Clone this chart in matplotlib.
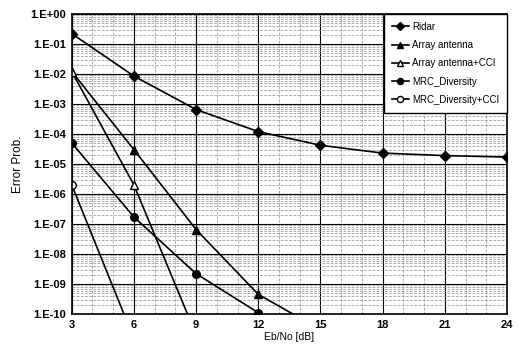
import numpy as np
import matplotlib
matplotlib.use("Agg")
import matplotlib.pyplot as plt
from matplotlib.ticker import FixedLocator, LogLocator, FuncFormatter, NullFormatter

plt.rcParams['font.family'] = ['Liberation Sans', 'DejaVu Sans']

# data
snr = [3, 6, 9, 12, 15, 18, 21, 24]
ridar = [2.2e-1, 8.5e-3, 6.5e-4, 1.2e-4, 4.2e-5, 2.3e-5, 1.9e-5, 1.7e-5]

snr_aa = [3, 6, 9, 12, 15]
array_ant = [1.2e-2, 3.0e-5, 6.5e-8, 4.5e-10, 3.0e-11]

snr_aacci = [3, 6, 9]
array_cci = [1.2e-2, 2.0e-6, 2.0e-11]

snr_mrc = [3, 6, 9, 12, 15]
mrc = [5.0e-5, 1.7e-7, 2.2e-9, 1.1e-10, 1.0e-11]

snr_mrccci = [3, 6]
mrc_cci = [2.0e-6, 1.5e-11]

xticks = [3, 6, 9, 12, 15, 18, 21, 24]

fig = plt.figure(figsize=(5.2, 3.58), dpi=100)
ax = fig.add_axes([0.138, 0.123, 0.837, 0.838])

ax.plot(snr, ridar, 'k-', marker='D', ms=5.5, lw=1.2, label='Ridar')
ax.plot(snr_aa, array_ant, 'k-', marker='^', ms=6, lw=1.2, label='Array antenna')
ax.plot(snr_aacci, array_cci, 'k-', marker='^', ms=6, mfc='white', lw=1.2,
        label='Array antenna+CCI')
ax.plot(snr_mrc, mrc, 'k-', marker='o', ms=5.5, lw=1.2, label='MRC_Diversity')
ax.plot(snr_mrccci, mrc_cci, 'k-', marker='o', ms=5.5, mfc='white', lw=1.2,
        label='MRC_Diversity+CCI')

ax.set_yscale('log')
ax.set_ylim(1e-10, 1)
ax.set_xlim(3, 24)
ax.xaxis.set_major_locator(FixedLocator(xticks))
ax.xaxis.set_minor_locator(FixedLocator(np.arange(3, 25, 1)))
ax.yaxis.set_major_locator(LogLocator(base=10, numticks=12))
ax.yaxis.set_minor_locator(LogLocator(base=10, subs=np.arange(2, 10), numticks=12))
ax.yaxis.set_minor_formatter(NullFormatter())


def sci(v, pos):
    e = int(round(np.log10(v)))
    return "1.E%s%02d" % ('+' if e >= 0 else '-', abs(e))


ax.yaxis.set_major_formatter(FuncFormatter(sci))

ax.grid(which='major', color='black', lw=0.8, ls='-')
ax.grid(which='minor', color='#8a8a8a', lw=0.5, ls=(0, (4, 2)))
ax.tick_params(which='both', length=0, labelsize=8, pad=4)
for lab in ax.get_xticklabels() + ax.get_yticklabels():
    lab.set_fontweight('bold')

for s in ax.spines.values():
    s.set_color('black')
    s.set_linewidth(1.2)

ax.set_xlabel('Eb/No [dB]', fontsize=7.5, labelpad=2)
ax.set_ylabel('Error Prob.', fontsize=8.5, labelpad=5)

leg = ax.legend(loc='upper right', fontsize=7, frameon=True, fancybox=False,
                borderaxespad=0.0, handlelength=1.8, handletextpad=0.3,
                labelspacing=0.85, borderpad=0.8, markerscale=0.8)
leg.get_frame().set_edgecolor('black')
leg.get_frame().set_linewidth(1.0)
leg.get_frame().set_alpha(1)

fig.savefig('out.png', dpi=100)
